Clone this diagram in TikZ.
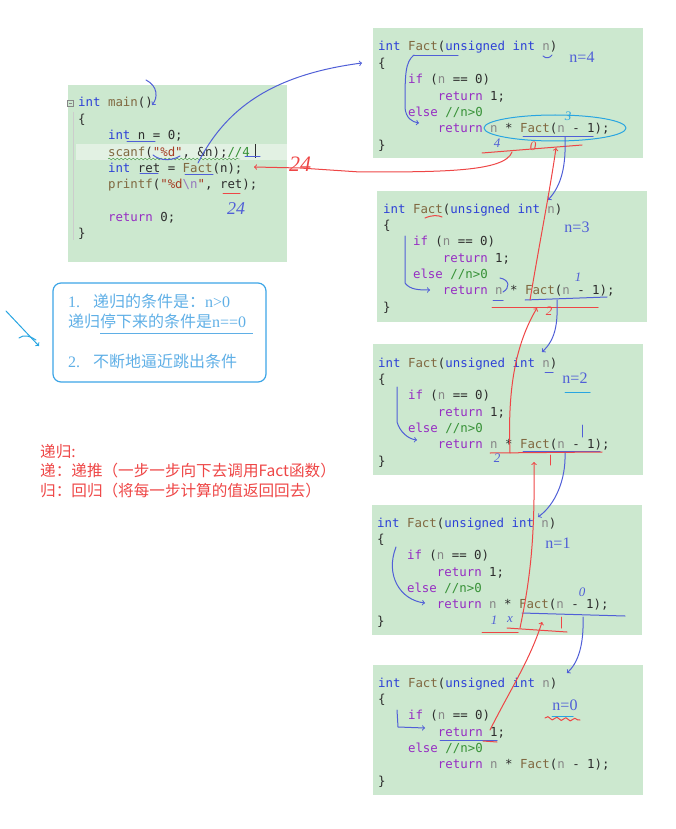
\documentclass[tikz,border=0pt]{standalone}
\usepackage{fontspec}
\setmonofont{DejaVu Sans Mono}
\newfontfamily\cjk{Noto Sans CJK SC}
\newfontfamily\hand{Liberation Serif}
\usepackage{tikz}
\usetikzlibrary{decorations.pathmorphing}

\definecolor{codebg}{RGB}{204,232,207}
\definecolor{codehl}{RGB}{226,241,227}
\definecolor{kwblue}{RGB}{45,65,215}
\definecolor{fnbrown}{RGB}{128,104,64}
\definecolor{ctlpurple}{RGB}{150,45,195}
\definecolor{vargrey}{RGB}{135,135,135}
\definecolor{cmtgreen}{RGB}{55,145,55}
\definecolor{strred}{RGB}{165,60,35}
\definecolor{escpurple}{RGB}{150,120,190}
\definecolor{codetxt}{RGB}{45,45,45}
\definecolor{penblue}{RGB}{80,95,215}
\definecolor{penred}{RGB}{238,70,70}
\definecolor{pencyan}{RGB}{40,165,225}
\definecolor{notecyan}{RGB}{95,175,230}
\definecolor{noteframe}{RGB}{60,165,230}

\newcommand\ckw[1]{\textcolor{kwblue}{#1}}
\newcommand\cfn[1]{\textcolor{fnbrown}{#1}}
\newcommand\cct[1]{\textcolor{ctlpurple}{#1}}
\newcommand\cvr[1]{\textcolor{vargrey}{#1}}
\newcommand\ccm[1]{\textcolor{cmtgreen}{#1}}
\newcommand\cstr[1]{\textcolor{strred}{#1}}
\newcommand\cesc[1]{\textcolor{escpurple}{#1}}
\newcommand\indt{\hspace*{29.86pt}}
\newcommand\monosp{\spaceskip=7.465pt\xspaceskip=7.465pt\relax}
\newcommand\codefont{\ttfamily\fontsize{12.4}{16.35}\selectfont}
\newcommand\factbody{\monosp\ckw{int} \cfn{Fact}(\ckw{unsigned int} \cvr{n})\\
\{\\
\indt\cct{if} (\cvr{n} == 0)\\
\indt\indt\cct{return} 1;\\
\indt\cct{else} \ccm{//n>0}\\
\indt\indt\cct{return} \cvr{n} * \cfn{Fact}(\cvr{n} - 1);\\
\}}

\tikzstyle{CodeBg}=[fill=codebg, draw=none]
\tikzstyle{Code}=[anchor=base west, inner sep=0, text width=265, align=left, font=\codefont, text=codetxt]
\tikzstyle{Pen}=[penblue, line width=1, line cap=round, line join=round]
\tikzstyle{RedPen}=[penred, line width=1, line cap=round, line join=round]
\tikzstyle{CyanPen}=[pencyan, line width=1, line cap=round, line join=round]
\tikzstyle{Ink}=[font=\hand\fontsize{16}{16}\selectfont, text=penblue, inner sep=0]
\tikzstyle{Scrawl}=[font=\hand\itshape\fontsize{13}{13}\selectfont, inner sep=0]
\tikzstyle{Note}=[anchor=base west, inner sep=0, font=\cjk\fontsize{16}{16}\selectfont, text=notecyan]
\tikzstyle{RedNote}=[anchor=base west, inner sep=0, font=\cjk\fontsize{15.6}{19.5}\selectfont, text=penred, text width=330, align=left]

\begin{document}
\begin{tikzpicture}[x=1pt, y=-1pt]
    \useasboundingbox (0,0) rectangle (675,829);

    \path[CodeBg] (68,85) rectangle (287,262);
    \path[fill=codehl] (76,144) rectangle (287,160);
    \path[CodeBg] (373,28) rectangle (643,158);
    \path[CodeBg] (377,191) rectangle (647,322);
    \path[CodeBg] (373,344) rectangle (643,475);
    \path[CodeBg] (372,505) rectangle (642,635);
    \path[CodeBg] (373,665) rectangle (643,795);

    \draw[vargrey, line width=0.6] (67.5,100) rectangle (73.5,106) (69,103) -- (72,103);
    \draw[black!20, line width=0.8] (73,112) -- (73,240);
    \draw[cmtgreen, decorate, decoration={snake, amplitude=0.8pt, segment length=4pt}] (108,159) -- (240,159);
    \draw[codetxt, line width=0.6] (255,144) -- (255,158);

    \path
    (78,107) node[Code] (main) {\monosp\ckw{int} \cfn{main}()\\
        \{\\
        \indt\ckw{int} n = 0;\\
        \indt\cfn{scanf}(\cstr{"\%d"}, \&n);\ccm{//4}\\
        \indt\ckw{int} ret = \cfn{Fact}(n);\\
        \indt\cfn{printf}(\cstr{"\%d}\cesc{\textbackslash n}\cstr{"}, ret);\\
        \strut\\
        \indt\cct{return} 0;\\
        \}}
    (378,51) node[Code] (fact4) {\factbody}
    (383,213) node[Code] (fact3) {\factbody}
    (378,367) node[Code] (fact2) {\factbody}
    (377,527) node[Code] (fact1) {\factbody}
    (378,687) node[Code] (fact0) {\factbody};

    \draw[noteframe, line width=1.2, rounded corners=8] (53,283) rectangle (266,382);
    \path
    (68,307) node[Note] (cond1) {{\hand 1.}\hspace{13pt}递归的条件是：{\hand n>0}}
    (68,327) node[Note] (cond2) {递归停下来的条件是{\hand n==0}}
    (68,367) node[Note] (cond3) {{\hand 2.}\hspace{13pt}不断地逼近跳出条件}
    (40,457) node[RedNote] (recur) {递归:\\递：递推（一步一步向下去调用Fact函数）\\归：回归（将每一步计算的值返回回去）};
    \draw[notecyan, line width=1] (100,333) -- (253,333);
    \draw[CyanPen, ->] (6,311) -- (39,346);
    \draw[CyanPen] (19,338) .. controls (24,334) and (30,336) .. (36,340);

    \path
    (582,57) node[Ink] (n4) {n=4}
    (577,227) node[Ink] (n3) {n=3}
    (575,378) node[Ink] (n2) {n=2}
    (558,543) node[Ink] (n1) {n=1}
    (565,705) node[Ink] (n0) {n=0};

    \coordinate (callfrom) at (198,163);
    \coordinate (callto) at (362,63);
    \coordinate (backfrom) at (512,152);
    \coordinate (backto) at (254,167);
    \draw[Pen, ->] (callfrom) .. controls (225,110) and (270,75) .. (callto);
    \draw[RedPen, ->] (backfrom) .. controls (505,172) and (440,172) .. (360,172) -- (300,168) -- (backto);
    \draw[Pen, ->] (146,80) .. controls (158,86) and (158,98) .. (152,105);
    \draw[Pen] (127,142) -- (155,142);
    \draw[Pen] (153,155) .. controls (160,161) and (172,161) .. (180,156);
    \draw[Pen] (245,157) -- (260,157);
    \draw[Pen] (140,174) -- (158,174);
    \draw[Pen] (185,175) -- (213,175);
    \draw[RedPen] (223,193) -- (240,193);
    \path
    (300,164) node[Scrawl, text=penred, font=\hand\itshape\fontsize{22}{22}\selectfont] (red24) {24}
    (236,209) node[Scrawl, text=penblue, font=\hand\itshape\fontsize{18}{18}\selectfont] (blue24) {24};

    % box n=4
    \draw[CyanPen] (555,128) ellipse [x radius=71pt, y radius=13pt];
    \draw[Pen] (413,56) -- (458,56);
    \draw[Pen] (543,56) .. controls (546,59) and (550,58) .. (552,55);
    \draw[Pen, ->] (414,55) .. controls (405,62) and (405,75) .. (405,108) .. controls (406,118) and (412,122) .. (419,123);
    \draw[Pen] (523,137) -- (593,137);
    \draw[RedPen] (482,153) -- (582,145);
    \path
    (568,116) node[Scrawl, text=pencyan] (lab4a) {3}
    (497,143) node[Scrawl, text=penblue] (lab4b) {4}
    (533,146) node[Scrawl, text=penred] (lab4c) {0};

    % box n=3
    \draw[RedPen] (425,218) .. controls (432,215) and (438,215) .. (442,217);
    \draw[Pen, ->] (405,236) -- (405,283) .. controls (410,290) and (420,290) .. (430,290);
    \draw[Pen] (500,278) .. controls (510,280) and (510,288) .. (503,292);
    \draw[Pen] (493,300) -- (503,300);
    \draw[Pen] (525,300) -- (607,297);
    \draw[RedPen] (492,307) -- (598,307);
    \path
    (578,277) node[Scrawl, text=penblue] (lab3a) {1}
    (549,311) node[Scrawl, text=penred] (lab3b) {2};

    % box n=2
    \draw[Pen] (545,372) -- (553,372);
    \draw[CyanPen] (565,392) -- (590,392);
    \draw[Pen, ->] (397,387) -- (397,422) .. controls (400,432) and (408,439) .. (417,440);
    \draw[Pen] (582,425) -- (582,437);
    \draw[Pen] (523,451) -- (600,451);
    \draw[RedPen] (490,453) -- (602,452);
    \draw[RedPen] (550,455) -- (550,465);
    \path
    (497,458) node[Scrawl, text=penblue] (lab2a) {2};

    % box n=1
    \draw[Pen, ->] (396,547) .. controls (385,575) and (400,600) .. (425,603);
    \draw[Pen] (522,613) -- (625,616);
    \draw[RedPen] (482,632) -- (518,632);
    \draw[RedPen] (507,628) -- (567,632);
    \draw[RedPen] (561,617) -- (561,628);
    \path
    (582,592) node[Scrawl, text=penblue] (lab1a) {0}
    (494,620) node[Scrawl, text=penblue] (lab1b) {1}
    (510,620) node[Scrawl, text=penblue] (lab1c) {x};

    % box n=0
    \draw[Pen, ->] (397,710) -- (398,727) -- (425,728);
    \draw[Pen] (440,740) -- (497,740);
    \draw[RedPen] (483,741) -- (497,742);
    \draw[CyanPen] (552,716) -- (573,716);
    \draw[RedPen, decorate, decoration={snake, amplitude=1.5pt, segment length=9pt}] (545,718) -- (580,720);

    % call chain and return chain
    \coordinate (call4) at (565,137);
    \coordinate (in3) at (548,200);
    \coordinate (call3) at (557,300);
    \coordinate (in2) at (542,352);
    \coordinate (call2) at (565,453);
    \coordinate (in1) at (538,517);
    \coordinate (call1) at (583,617);
    \coordinate (in0) at (567,673);
    \coordinate (ret0) at (490,730);
    \coordinate (up1) at (542,622);
    \coordinate (ret1) at (520,628);
    \coordinate (up2) at (534,462);
    \coordinate (ret2) at (510,453);
    \coordinate (up3) at (537,308);
    \coordinate (ret3) at (530,300);
    \coordinate (up4) at (556,148);
    \draw[Pen, ->] (call4) .. controls (566,165) and (562,185) .. (in3);
    \draw[Pen, ->] (call3) .. controls (558,325) and (555,340) .. (in2);
    \draw[Pen, ->] (call2) .. controls (566,480) and (555,505) .. (in1);
    \draw[Pen, ->] (call1) .. controls (584,645) and (578,663) .. (in0);
    \draw[RedPen, ->] (ret0) .. controls (510,690) and (530,660) .. (up1);
    \draw[RedPen, ->] (ret1) .. controls (530,580) and (535,540) .. (up2);
    \draw[RedPen, ->] (ret2) .. controls (508,400) and (512,350) .. (up3);
    \draw[RedPen, ->] (ret3) .. controls (540,240) and (550,190) .. (up4);
\end{tikzpicture}
\end{document}
